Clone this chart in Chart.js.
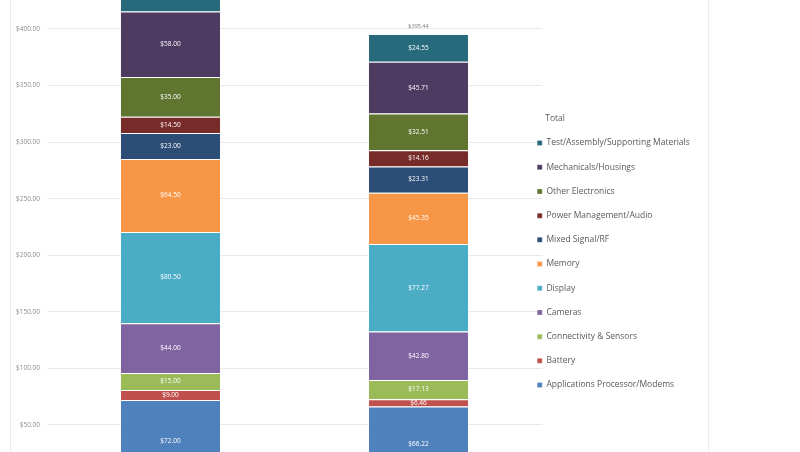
<!DOCTYPE html>
<html>
<head>
<meta charset="utf-8">
<script src="https://cdn.jsdelivr.net/npm/chart.js@4"></script>
<style>
  html, body { margin: 0; padding: 0; background: #fff; }
  .frame { position: absolute; left: 10px; top: 0; width: 697px; height: 452px;
           border-left: 1px solid #ececec; border-right: 1px solid #ececec; }
  #wrap { position: absolute; left: 0; top: 0; width: 800px; height: 452px; }
</style>
</head>
<body>
<div class="frame"></div>
<div id="wrap"><canvas id="bom"></canvas></div>
<script>
// devices (the category labels sit below the visible crop)
const phones = ['iPhone XS Max', 'iPhone X'];
const totals = [443.00, 395.44];

// components, bottom of the stack first
const parts = [
  'Applications Processor/Modems',
  'Battery',
  'Connectivity & Sensors',
  'Cameras',
  'Display',
  'Memory',
  'Mixed Signal/RF',
  'Power Management/Audio',
  'Other Electronics',
  'Mechanicals/Housings',
  'Test/Assembly/Supporting Materials'
];
const xsMaxCost = [72.00, 9.00, 15.00, 44.00, 80.50, 64.50, 23.00, 14.50, 35.00, 58.00, 27.50];
const iphoneXCost = [66.22, 6.46, 17.13, 42.80, 77.27, 45.35, 23.31, 14.16, 32.51, 45.71, 24.55];
const partColors = ['#4f81bd', '#c0504d', '#9bbb59', '#8064a2', '#4bacc6', '#f79646',
                    '#2c4d75', '#772c2a', '#5f7530', '#4d3b62', '#276a7c'];

const yTicks = [50, 100, 150, 200, 250, 300, 350, 400];
const legendTitle = 'Total';

const money = v => '$' + v.toFixed(2);

const datasets = parts.map((p, i) => ({
  label: p,
  data: [xsMaxCost[i], iphoneXCost[i]],
  backgroundColor: partColors[i],
  borderColor: '#ffffff',
  borderWidth: { top: 1, bottom: 0, left: 0, right: 0 },
  borderSkipped: 'start',
  barPercentage: 0.4,
  categoryPercentage: 1.0
}));

// white cost labels inside each piece plus the total on top of each bar
const segLabels = {
  id: 'segLabels',
  afterDatasetsDraw(chart) {
    const { ctx, chartArea } = chart;
    ctx.save();
    ctx.beginPath();
    ctx.rect(chartArea.left, chartArea.top, chartArea.width, chartArea.height);
    ctx.clip();
    ctx.font = '6.5px "Open Sans"';
    ctx.textAlign = 'center';
    ctx.textBaseline = 'middle';
    ctx.fillStyle = '#ffffff';
    chart.data.datasets.forEach((ds, i) => {
      chart.getDatasetMeta(i).data.forEach((bar, j) => {
        ctx.fillText(money(ds.data[j]), bar.x, (bar.y + bar.base) / 2);
      });
    });
    const topMeta = chart.getDatasetMeta(chart.data.datasets.length - 1);
    ctx.fillStyle = '#7a7a7a';
    ctx.font = '5.5px "Open Sans"';
    topMeta.data.forEach((bar, j) => {
      ctx.fillText(money(totals[j]), bar.x, bar.y - 8);
    });
    ctx.restore();
  }
};

// keep the legend narrow and tucked against the plot like the Excel original,
// and write its heading in line with the item texts
const legendFit = {
  id: 'legendFit',
  beforeInit(chart) {
    const fit = chart.legend.fit;
    chart.legend.fit = function () { fit.call(this); this.width = 257.5; };
  },
  afterLayout(chart) {
    chart.legend.left = chart.chartArea.right - 21;
  },
  afterDraw(chart) {
    const lg = chart.legend;
    if (!lg.legendHitBoxes || !lg.legendHitBoxes.length) return;
    const first = lg.legendHitBoxes[0];
    const ctx = chart.ctx;
    ctx.save();
    ctx.font = '8.5px "Open Sans"';
    ctx.fillStyle = '#595959';
    ctx.textBaseline = 'middle';
    ctx.fillText(legendTitle, first.left + 8, first.top - 20);
    ctx.restore();
  }
};

new Chart(document.getElementById('bom'), {
  type: 'bar',
  data: { labels: phones, datasets: datasets },
  plugins: [segLabels, legendFit],
  options: {
    responsive: true,
    maintainAspectRatio: false,
    animation: false,
    layout: { padding: 0 },
    plugins: {
      tooltip: { enabled: false },
      legend: {
        position: 'right',
        align: 'start',
        reverse: true,
        title: {
          display: true,
          text: legendTitle,
          color: 'rgba(0,0,0,0)',
          font: { family: 'Open Sans', size: 8 },
          padding: { top: 113.5, bottom: 0 }
        },
        labels: {
          boxWidth: 5,
          boxHeight: 5,
          padding: 15.7,
          color: '#595959',
          font: { family: 'Open Sans', size: 8.5 }
        }
      }
    },
    scales: {
      x: { stacked: true, display: false },
      y: {
        stacked: true,
        min: 26.1,
        max: 425.6,
        border: { display: false },
        grid: { color: '#e9e9e9', drawTicks: false },
        afterFit(scale) {
          scale.width = 46.5;
          scale.paddingTop = 0;
          scale.paddingBottom = 0;
        },
        afterBuildTicks(scale) { scale.ticks = yTicks.map(v => ({ value: v })); },
        ticks: {
          padding: 6.5,
          color: '#8c8c8c',
          font: { family: 'Open Sans', size: 6.5 },
          callback: v => money(v)
        }
      }
    }
  }
});
</script>
</body>
</html>
